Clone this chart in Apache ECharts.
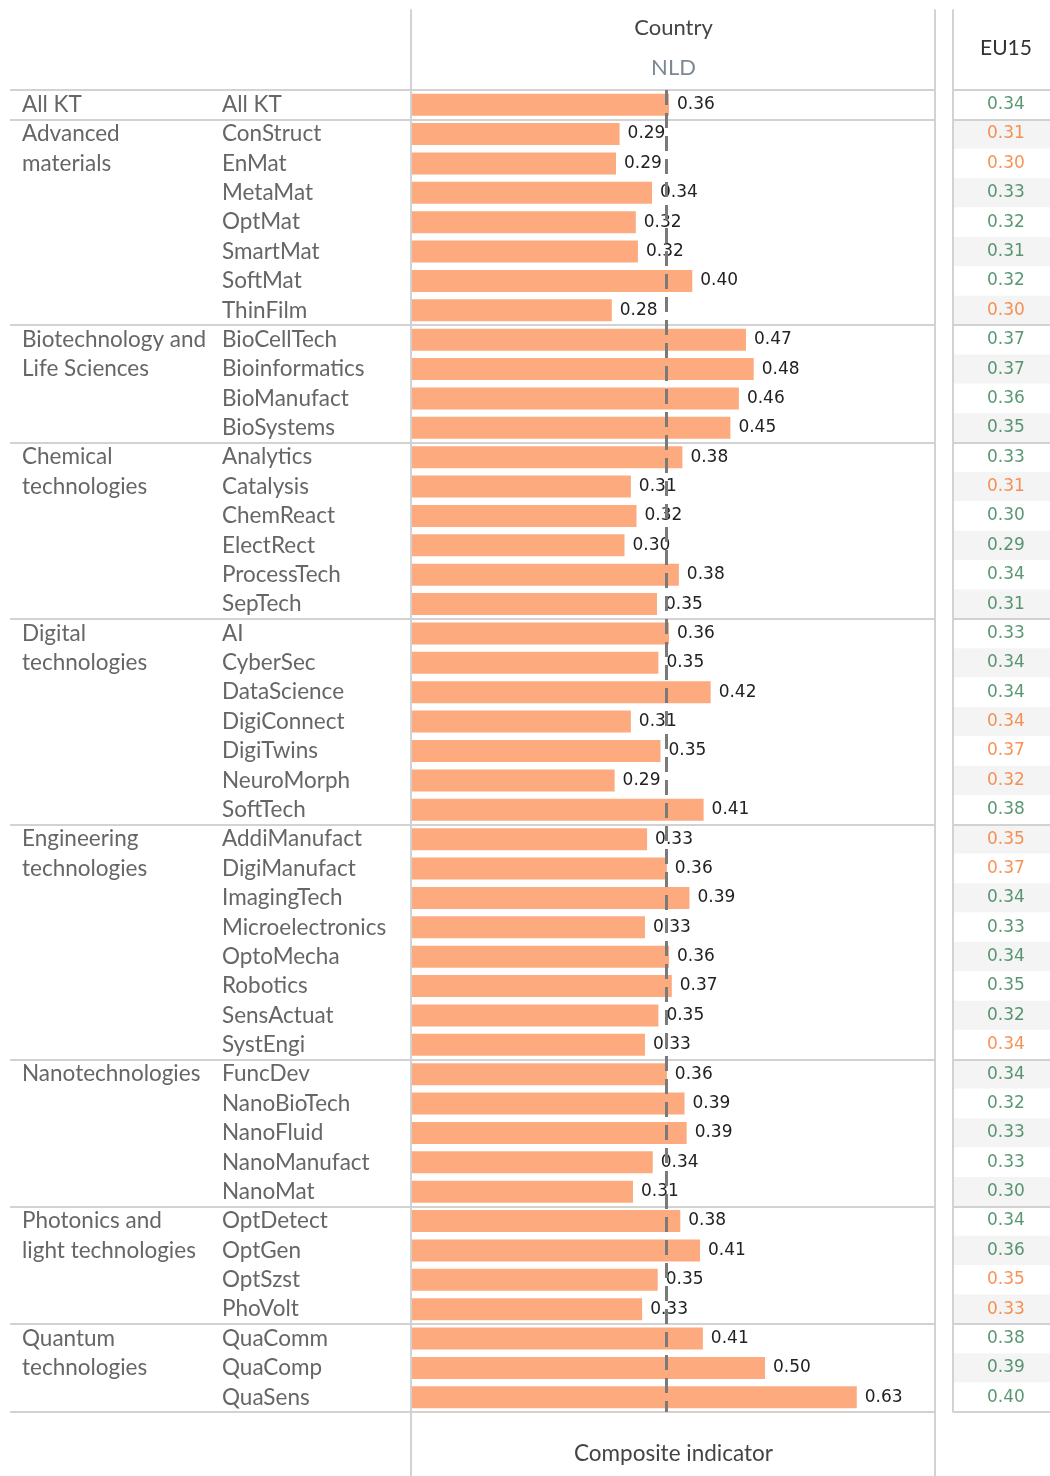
<!DOCTYPE html>
<html style="height: 100%">
<head>
 <meta charset="utf-8">
 <title>NLD composite indicator</title>
 <script src="https://cdn.jsdelivr.net/npm/echarts@6/dist/echarts.min.js"></script>
</head>
<body style="height: 100%; margin: 0; background: #fff">
 <div id="container" style="width: 1050px; height: 1476px"></div>
 <script type="text/javascript">
    // groups of key technologies and how many rows each one has
    var groupNames = ['All KT', 'Advanced\nmaterials', 'Biotechnology and\nLife Sciences', 'Chemical\ntechnologies',
        'Digital\ntechnologies', 'Engineering\ntechnologies', 'Nanotechnologies', 'Photonics and\nlight technologies',
        'Quantum\ntechnologies'];
    var groupSizes = [1, 7, 4, 6, 7, 8, 5, 4, 3];

    var techs = ['All KT',
        'ConStruct', 'EnMat', 'MetaMat', 'OptMat', 'SmartMat', 'SoftMat', 'ThinFilm',
        'BioCellTech', 'Bioinformatics', 'BioManufact', 'BioSystems',
        'Analytics', 'Catalysis', 'ChemReact', 'ElectRect', 'ProcessTech', 'SepTech',
        'AI', 'CyberSec', 'DataScience', 'DigiConnect', 'DigiTwins', 'NeuroMorph', 'SoftTech',
        'AddiManufact', 'DigiManufact', 'ImagingTech', 'Microelectronics', 'OptoMecha', 'Robotics', 'SensActuat', 'SystEngi',
        'FuncDev', 'NanoBioTech', 'NanoFluid', 'NanoManufact', 'NanoMat',
        'OptDetect', 'OptGen', 'OptSzst', 'PhoVolt',
        'QuaComm', 'QuaComp', 'QuaSens'];

    // NLD composite indicator
    var nld = [0.364,
        0.294, 0.289, 0.340, 0.317, 0.320, 0.397, 0.283,
        0.473, 0.484, 0.463, 0.451,
        0.383, 0.310, 0.318, 0.301, 0.378, 0.347,
        0.364, 0.349, 0.423, 0.310, 0.352, 0.287, 0.413,
        0.333, 0.361, 0.393, 0.330, 0.364, 0.368, 0.349, 0.330,
        0.361, 0.386, 0.389, 0.341, 0.313,
        0.380, 0.408, 0.348, 0.326,
        0.412, 0.500, 0.630];

    // EU15 benchmark and whether NLD is at/above it (1) or below (0)
    var eu15 = [0.34,
        0.31, 0.30, 0.33, 0.32, 0.31, 0.32, 0.30,
        0.37, 0.37, 0.36, 0.35,
        0.33, 0.31, 0.30, 0.29, 0.34, 0.31,
        0.33, 0.34, 0.34, 0.34, 0.37, 0.32, 0.38,
        0.35, 0.37, 0.34, 0.33, 0.34, 0.35, 0.32, 0.34,
        0.34, 0.32, 0.33, 0.33, 0.30,
        0.34, 0.36, 0.35, 0.33,
        0.38, 0.39, 0.40];
    var nldAbove = [1,
        0, 0, 1, 1, 1, 1, 0,
        1, 1, 1, 1,
        1, 0, 1, 1, 1, 1,
        1, 1, 1, 0, 0, 0, 1,
        0, 0, 1, 1, 1, 1, 1, 0,
        1, 1, 1, 1, 1,
        1, 1, 0, 0,
        1, 1, 1];

    var refLine = 0.365;
    var xMax = 0.7408;

    var GREEN = '#2f7d4f', ORANGE = '#f5772c', LINE = '#d2d2d2';
    var LABEL_FONT = 'Lato', NUM_FONT = 'DejaVu Sans';

    // first row of each group, and the group label lines per row
    var groupStarts = [], groupRowText = techs.map(function () { return ''; });
    var r = 0;
    groupSizes.forEach(function (n, g) {
        groupStarts.push(r);
        groupNames[g].split('\n').forEach(function (line, k) { groupRowText[r + k] = line; });
        r += n;
    });
    function isGroupStart(idx) { return groupStarts.indexOf(idx) >= 0; }

    var groupLines = {show: true, interval: isGroupStart, lineStyle: {color: LINE, width: 2}};
    var hidden = {show: false};

    var dom = document.getElementById('container');
    var myChart = echarts.init(dom);
    var option = {
        backgroundColor: '#fff',
        animation: false,
        grid: [
            {left: 10, width: 401, top: 90, height: 1322},          // label area
            {left: 412, width: 523, top: 90, height: 1322},         // bars
            {left: 954, right: 0, top: 90, height: 1322},           // EU15 column
            {left: 411, width: 524, top: 10, bottom: 0},            // frame lines
            {left: 953, right: 0, top: 10, bottom: 64}              // EU15 frame line
        ],
        xAxis: [
            {gridIndex: 0, type: 'value', min: 0, max: 1, show: false},
            {
                gridIndex: 1, type: 'value', min: 0, max: xMax, position: 'top',
                name: '{a|Country}\n{b|NLD}', nameLocation: 'middle', nameGap: 42,
                nameTextStyle: {
                    verticalAlign: 'middle',
                    rich: {
                        a: {fontFamily: LABEL_FONT, fontSize: 22, color: '#444', lineHeight: 40},
                        b: {fontFamily: LABEL_FONT, fontSize: 22, color: '#7d8894', lineHeight: 40}
                    }
                },
                axisLine: hidden, axisTick: hidden, axisLabel: hidden, splitLine: hidden
            },
            {
                gridIndex: 1, type: 'value', min: 0, max: xMax, position: 'bottom',
                name: 'Composite indicator', nameLocation: 'middle', nameGap: 42,
                nameTextStyle: {fontFamily: LABEL_FONT, fontSize: 22.5, color: '#444', verticalAlign: 'middle'},
                axisLine: hidden, axisTick: hidden, axisLabel: hidden, splitLine: hidden
            },
            {
                gridIndex: 2, type: 'value', min: 0, max: 1, position: 'top',
                name: 'EU15', nameLocation: 'middle', nameGap: 42,
                nameTextStyle: {
                    fontFamily: LABEL_FONT, fontSize: 21, color: '#333', verticalAlign: 'middle',
                    padding: [0, 0, 0, 8]
                },
                axisLine: hidden, axisTick: hidden, axisLabel: hidden, splitLine: hidden
            },
            {gridIndex: 3, type: 'value', min: 0, max: 1, show: false},
            {gridIndex: 4, type: 'value', min: 0, max: 1, show: false}
        ],
        yAxis: [
            {
                gridIndex: 0, type: 'category', data: techs, inverse: true,
                axisLine: hidden, axisTick: hidden, axisLabel: hidden, splitLine: groupLines
            },
            {
                gridIndex: 1, type: 'category', data: techs, inverse: true, position: 'left',
                axisLine: hidden, axisTick: hidden, splitLine: groupLines,
                axisLabel: {
                    interval: 0, align: 'left', margin: 190,
                    fontFamily: LABEL_FONT, fontSize: 22.5, color: '#666'
                }
            },
            {
                gridIndex: 1, type: 'category', data: techs, inverse: true, position: 'left',
                axisLine: hidden, axisTick: hidden, splitLine: hidden,
                axisLabel: {
                    interval: 0, align: 'left', margin: 390,
                    fontFamily: LABEL_FONT, fontSize: 22.5, color: '#666',
                    formatter: function (v, i) { return groupRowText[i]; }
                }
            },
            {
                gridIndex: 2, type: 'category', data: techs, inverse: true,
                axisLine: hidden, axisTick: hidden, axisLabel: hidden, splitLine: groupLines,
                splitArea: {show: true, interval: 0, areaStyle: {color: ['#ffffff', '#f4f4f4']}}
            },
            {
                gridIndex: 3, type: 'value', min: 0, max: 1, position: 'left',
                axisLine: {show: true, onZero: false, lineStyle: {color: LINE, width: 2}},
                axisTick: hidden, axisLabel: hidden, splitLine: hidden
            },
            {
                gridIndex: 3, type: 'value', min: 0, max: 1, position: 'right',
                axisLine: {show: true, onZero: false, lineStyle: {color: LINE, width: 2}},
                axisTick: hidden, axisLabel: hidden, splitLine: hidden
            },
            {
                gridIndex: 4, type: 'value', min: 0, max: 1, position: 'left',
                axisLine: {show: true, onZero: false, lineStyle: {color: LINE, width: 2}},
                axisTick: hidden, axisLabel: hidden, splitLine: hidden
            }
        ],
        series: [
            {
                type: 'bar',
                xAxisIndex: 1,
                yAxisIndex: 1,
                data: nld,
                barWidth: 22,
                itemStyle: {color: '#fcaa7e'},
                label: {
                    show: true, position: 'right', distance: 8,
                    fontFamily: NUM_FONT, fontSize: 17, color: '#222',
                    formatter: function (p) { return p.value.toFixed(2); }
                },
                markLine: {
                    silent: true,
                    symbol: 'none',
                    label: {show: false},
                    lineStyle: {color: '#7a7a7a', width: 3, type: [15, 8]},
                    data: [{xAxis: refLine}]
                },
                z: 2
            },
            {
                type: 'scatter',
                xAxisIndex: 3,
                yAxisIndex: 3,
                symbolSize: 0,
                silent: true,
                data: eu15.map(function (v, i) {
                    return {
                        value: [0.54, i],
                        label: {color: nldAbove[i] ? GREEN : ORANGE}
                    };
                }),
                label: {
                    show: true, position: 'inside',
                    fontFamily: NUM_FONT, fontSize: 17,
                    formatter: function (p) { return eu15[p.dataIndex].toFixed(2); }
                }
            }
        ]
    };
    myChart.setOption(option);
</script>
</body>
</html>
